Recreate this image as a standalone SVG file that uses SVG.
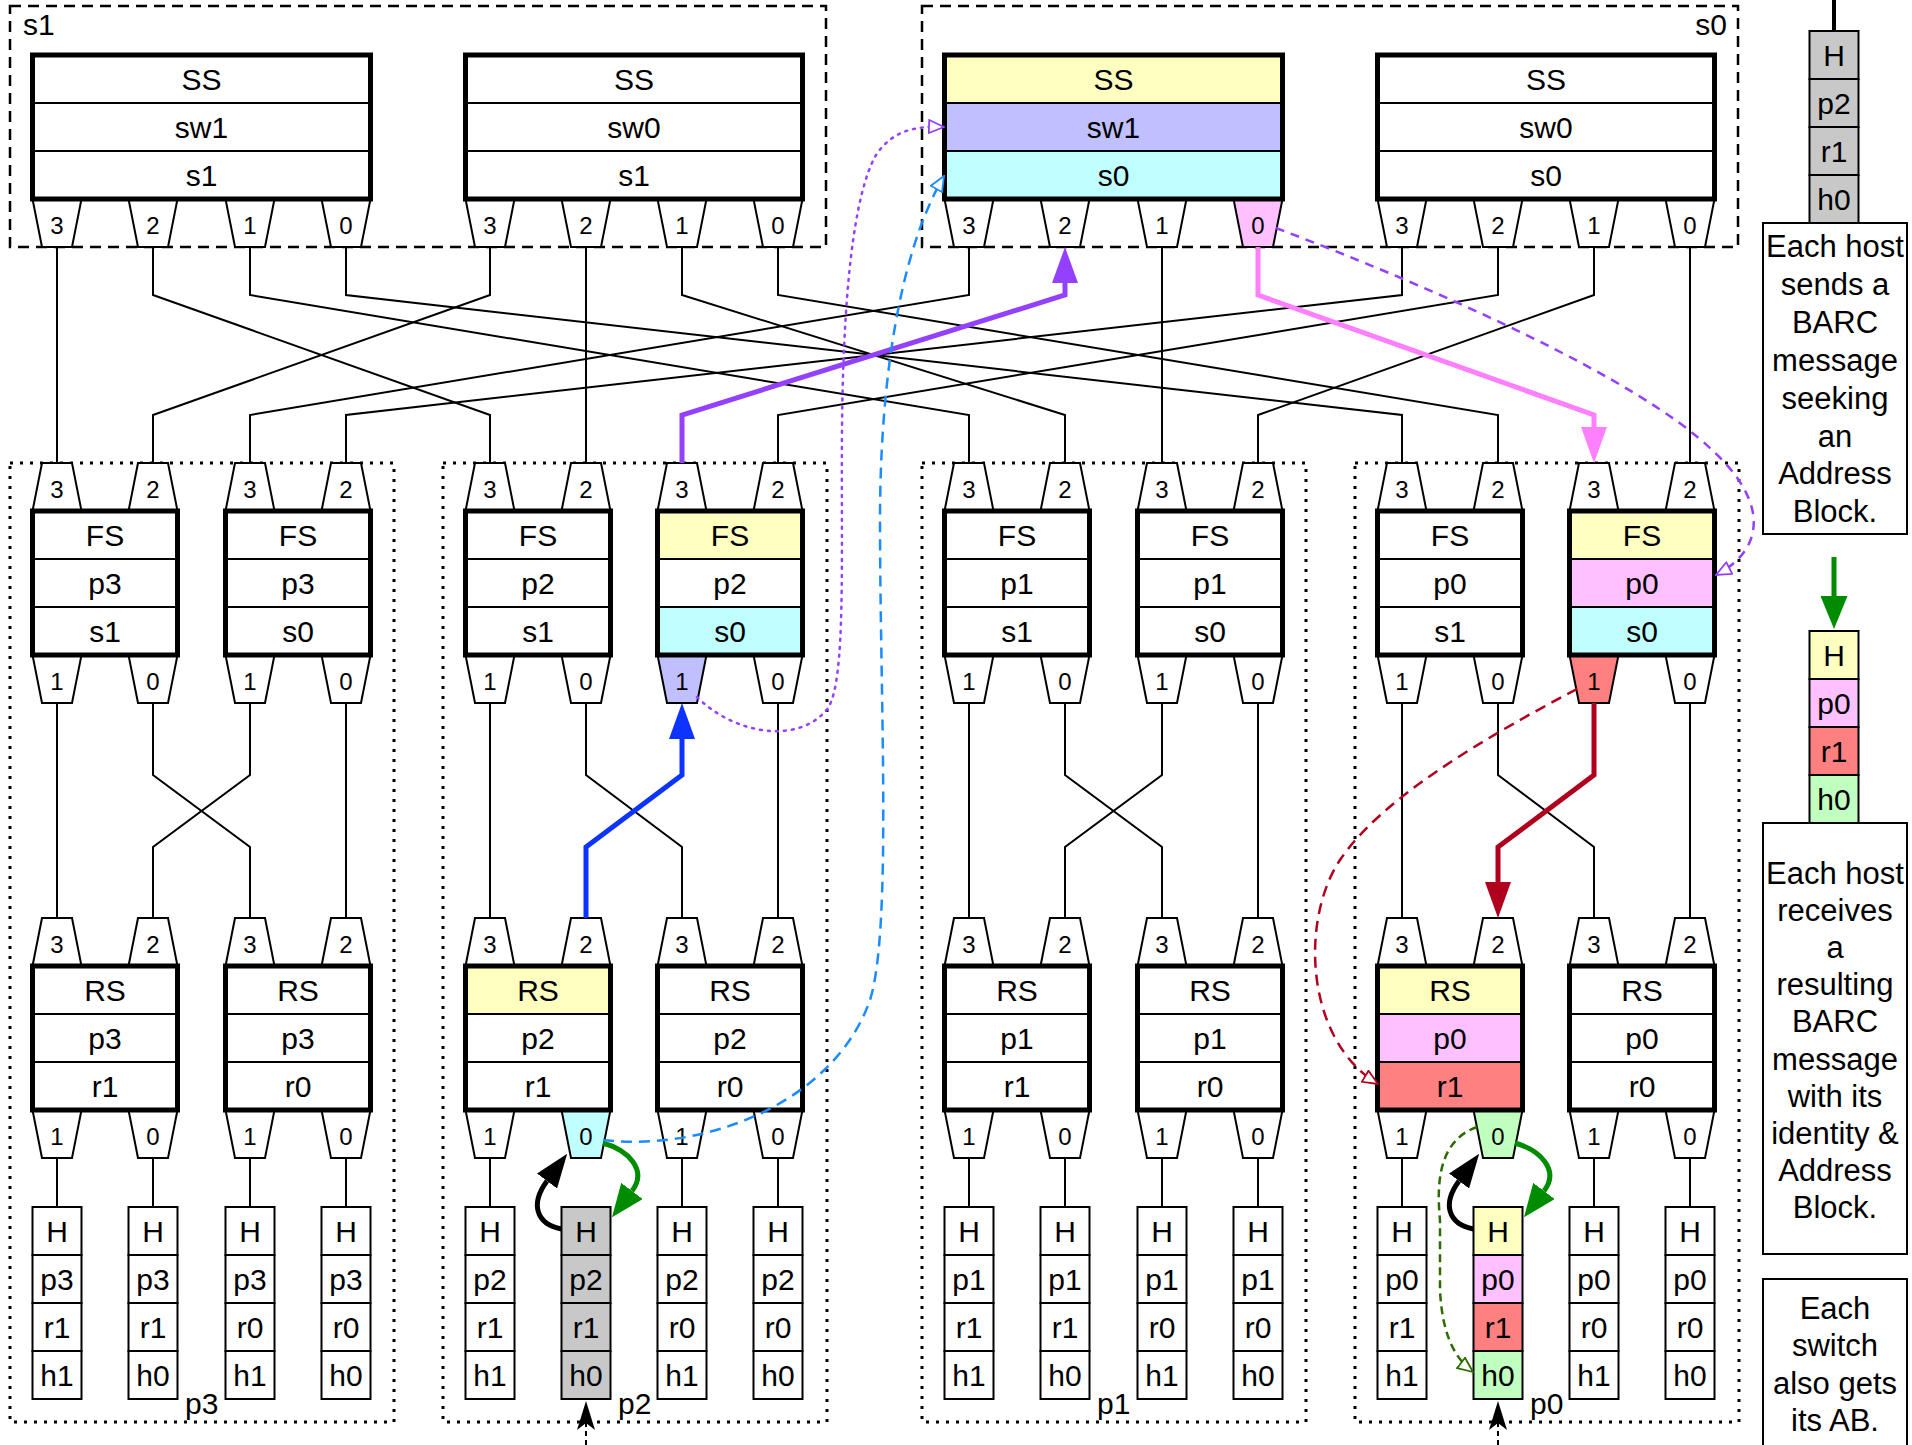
<svg xmlns="http://www.w3.org/2000/svg" width="1912" height="1445" viewBox="0 0 1912 1445">
<style>
.cell{fill:#fff;stroke:#000;stroke-width:2}
.frame{fill:none;stroke:#000;stroke-width:5}
.port{fill:#fff;stroke:#000;stroke-width:2}
.t{font-family:"Liberation Sans",Arial,Helvetica,sans-serif;font-size:30px;text-anchor:middle;fill:#000}
.d{font-size:24px}
.st{text-anchor:start}
.en{text-anchor:end}
.w{fill:none;stroke:#000;stroke-width:2}
.grpS{fill:none;stroke:#000;stroke-width:2.5;stroke-dasharray:11 7}
.grpP{fill:none;stroke:#000;stroke-width:3;stroke-dasharray:3 7}
.Y{fill:#ffffc0}.L{fill:#c0c0ff}.C{fill:#c0ffff}.P{fill:#ffc0ff}.R{fill:#ff8080}.G{fill:#c0ffc0}.K{fill:#c8c8c8}
.note{fill:#fff;stroke:#000;stroke-width:2}
.nt{font-family:"Liberation Sans",Arial,Helvetica,sans-serif;font-size:31px;text-anchor:middle;fill:#000}
</style>
<defs>
<polygon id="pd" points="-24.5,0 24.5,0 15,48 -15,48"/>
<polygon id="pu" points="-15,0 15,0 24.5,48 -24.5,48"/>
<g id="hf"><rect x="-24.5" y="0" width="49" height="48"/><rect x="-24.5" y="48" width="49" height="48"/><rect x="-24.5" y="96" width="49" height="48"/><rect x="-24.5" y="144" width="49" height="48"/></g>
<marker id="mBlue" viewBox="0 0 36 26" refX="0" refY="13" markerWidth="36" markerHeight="26" markerUnits="userSpaceOnUse" orient="auto"><path d="M0,0L36,13L0,26z" fill="#0d33ff"/></marker>
<marker id="mPurple" viewBox="0 0 36 26" refX="0" refY="13" markerWidth="36" markerHeight="26" markerUnits="userSpaceOnUse" orient="auto"><path d="M0,0L36,13L0,26z" fill="#9441ff"/></marker>
<marker id="mPink" viewBox="0 0 36 26" refX="0" refY="13" markerWidth="36" markerHeight="26" markerUnits="userSpaceOnUse" orient="auto"><path d="M0,0L36,13L0,26z" fill="#ff80ff"/></marker>
<marker id="mRed" viewBox="0 0 36 26" refX="0" refY="13" markerWidth="36" markerHeight="26" markerUnits="userSpaceOnUse" orient="auto"><path d="M0,0L36,13L0,26z" fill="#b0001e"/></marker>
<marker id="mBlack" viewBox="0 0 34 25" refX="0" refY="12.5" markerWidth="34" markerHeight="25" markerUnits="userSpaceOnUse" orient="auto"><path d="M0,0L34,12.5L0,25z" fill="#000"/></marker>
<marker id="mGreen" viewBox="0 0 33 27" refX="0" refY="13.5" markerWidth="33" markerHeight="27" markerUnits="userSpaceOnUse" orient="auto"><path d="M0,0L33,13.5L0,27z" fill="#008c00"/></marker>
<marker id="oPurple" viewBox="0 0 17 15" refX="16" refY="7.5" markerWidth="17" markerHeight="15" markerUnits="userSpaceOnUse" orient="auto"><path d="M1,1L16,7.5L1,14z" fill="#fff" stroke="#9441ff" stroke-width="1.8"/></marker>
<marker id="oBlue" viewBox="0 0 17 15" refX="16" refY="7.5" markerWidth="17" markerHeight="15" markerUnits="userSpaceOnUse" orient="auto"><path d="M1,1L16,7.5L1,14z" fill="#fff" stroke="#1a8cff" stroke-width="1.8"/></marker>
<marker id="oRed" viewBox="0 0 17 15" refX="16" refY="7.5" markerWidth="17" markerHeight="15" markerUnits="userSpaceOnUse" orient="auto"><path d="M1,1L16,7.5L1,14z" fill="#fff" stroke="#b0001e" stroke-width="1.8"/></marker>
<marker id="oGreen" viewBox="0 0 17 15" refX="16" refY="7.5" markerWidth="17" markerHeight="15" markerUnits="userSpaceOnUse" orient="auto"><path d="M1,1L16,7.5L1,14z" fill="#fff" stroke="#2d6b00" stroke-width="1.8"/></marker>
</defs>

<g id="containers">
<rect class="grpS" x="10" y="6" width="816" height="241"/>
<text class="t st" x="23" y="35">s1</text>
<rect class="grpS" x="922" y="6" width="816" height="241"/>
<text class="t en" x="1727" y="35">s0</text>
<rect class="grpP" x="10" y="463" width="384" height="959"/>
<text class="t st" x="185" y="1414">p3</text>
<rect class="grpP" x="443" y="463" width="384" height="959"/>
<text class="t st" x="618" y="1414">p2</text>
<rect class="grpP" x="922" y="463" width="384" height="959"/>
<text class="t st" x="1097" y="1414">p1</text>
<rect class="grpP" x="1355" y="463" width="384" height="959"/>
<text class="t st" x="1530" y="1414">p0</text>
</g>

<!-- Spine switches -->
<g id="ss-s1-sw1">
<use href="#pd" class="port" x="57" y="199"/><use href="#pd" class="port" x="153" y="199"/><use href="#pd" class="port" x="250" y="199"/><use href="#pd" class="port" x="346" y="199"/>
<text class="t d" x="57" y="234">3</text><text class="t d" x="153" y="234">2</text><text class="t d" x="250" y="234">1</text><text class="t d" x="346" y="234">0</text>
<rect class="cell" x="32.5" y="55" width="338" height="48"/><rect class="cell" x="32.5" y="103" width="338" height="48"/><rect class="cell" x="32.5" y="151" width="338" height="48"/>
<rect class="frame" x="32.5" y="55" width="338" height="144"/>
<text class="t" x="201.5" y="90">SS</text><text class="t" x="201.5" y="138">sw1</text><text class="t" x="201.5" y="186">s1</text>
</g>
<g id="ss-s1-sw0">
<use href="#pd" class="port" x="490" y="199"/><use href="#pd" class="port" x="586" y="199"/><use href="#pd" class="port" x="682" y="199"/><use href="#pd" class="port" x="778" y="199"/>
<text class="t d" x="490" y="234">3</text><text class="t d" x="586" y="234">2</text><text class="t d" x="682" y="234">1</text><text class="t d" x="778" y="234">0</text>
<rect class="cell" x="465.5" y="55" width="337" height="48"/><rect class="cell" x="465.5" y="103" width="337" height="48"/><rect class="cell" x="465.5" y="151" width="337" height="48"/>
<rect class="frame" x="465.5" y="55" width="337" height="144"/>
<text class="t" x="634" y="90">SS</text><text class="t" x="634" y="138">sw0</text><text class="t" x="634" y="186">s1</text>
</g>
<g id="ss-s0-sw1">
<use href="#pd" class="port" x="969" y="199"/><use href="#pd" class="port" x="1065" y="199"/><use href="#pd" class="port" x="1162" y="199"/><use href="#pd" class="port P" x="1258" y="199"/>
<text class="t d" x="969" y="234">3</text><text class="t d" x="1065" y="234">2</text><text class="t d" x="1162" y="234">1</text><text class="t d" x="1258" y="234">0</text>
<rect class="cell Y" x="944.5" y="55" width="338" height="48"/><rect class="cell L" x="944.5" y="103" width="338" height="48"/><rect class="cell C" x="944.5" y="151" width="338" height="48"/>
<rect class="frame" x="944.5" y="55" width="338" height="144"/>
<text class="t" x="1113.5" y="90">SS</text><text class="t" x="1113.5" y="138">sw1</text><text class="t" x="1113.5" y="186">s0</text>
</g>
<g id="ss-s0-sw0">
<use href="#pd" class="port" x="1402" y="199"/><use href="#pd" class="port" x="1498" y="199"/><use href="#pd" class="port" x="1594" y="199"/><use href="#pd" class="port" x="1690" y="199"/>
<text class="t d" x="1402" y="234">3</text><text class="t d" x="1498" y="234">2</text><text class="t d" x="1594" y="234">1</text><text class="t d" x="1690" y="234">0</text>
<rect class="cell" x="1377.5" y="55" width="337" height="48"/><rect class="cell" x="1377.5" y="103" width="337" height="48"/><rect class="cell" x="1377.5" y="151" width="337" height="48"/>
<rect class="frame" x="1377.5" y="55" width="337" height="144"/>
<text class="t" x="1546" y="90">SS</text><text class="t" x="1546" y="138">sw0</text><text class="t" x="1546" y="186">s0</text>
</g>

<!-- Fabric switches -->
<g id="fs-p3-s1">
<use href="#pu" class="port" x="57" y="463"/><use href="#pu" class="port" x="153" y="463"/><use href="#pd" class="port" x="57" y="655"/><use href="#pd" class="port" x="153" y="655"/>
<text class="t d" x="57" y="498">3</text><text class="t d" x="153" y="498">2</text><text class="t d" x="57" y="690">1</text><text class="t d" x="153" y="690">0</text>
<rect class="cell" x="32.5" y="511" width="145" height="48"/><rect class="cell" x="32.5" y="559" width="145" height="48"/><rect class="cell" x="32.5" y="607" width="145" height="48"/>
<rect class="frame" x="32.5" y="511" width="145" height="144"/>
<text class="t" x="105" y="546">FS</text><text class="t" x="105" y="594">p3</text><text class="t" x="105" y="642">s1</text>
</g>
<g id="fs-p3-s0">
<use href="#pu" class="port" x="250" y="463"/><use href="#pu" class="port" x="346" y="463"/><use href="#pd" class="port" x="250" y="655"/><use href="#pd" class="port" x="346" y="655"/>
<text class="t d" x="250" y="498">3</text><text class="t d" x="346" y="498">2</text><text class="t d" x="250" y="690">1</text><text class="t d" x="346" y="690">0</text>
<rect class="cell" x="225.5" y="511" width="145" height="48"/><rect class="cell" x="225.5" y="559" width="145" height="48"/><rect class="cell" x="225.5" y="607" width="145" height="48"/>
<rect class="frame" x="225.5" y="511" width="145" height="144"/>
<text class="t" x="298" y="546">FS</text><text class="t" x="298" y="594">p3</text><text class="t" x="298" y="642">s0</text>
</g>
<g id="fs-p2-s1">
<use href="#pu" class="port" x="490" y="463"/><use href="#pu" class="port" x="586" y="463"/><use href="#pd" class="port" x="490" y="655"/><use href="#pd" class="port" x="586" y="655"/>
<text class="t d" x="490" y="498">3</text><text class="t d" x="586" y="498">2</text><text class="t d" x="490" y="690">1</text><text class="t d" x="586" y="690">0</text>
<rect class="cell" x="465.5" y="511" width="145" height="48"/><rect class="cell" x="465.5" y="559" width="145" height="48"/><rect class="cell" x="465.5" y="607" width="145" height="48"/>
<rect class="frame" x="465.5" y="511" width="145" height="144"/>
<text class="t" x="538" y="546">FS</text><text class="t" x="538" y="594">p2</text><text class="t" x="538" y="642">s1</text>
</g>
<g id="fs-p2-s0">
<use href="#pu" class="port" x="682" y="463"/><use href="#pu" class="port" x="778" y="463"/><use href="#pd" class="port L" x="682" y="655"/><use href="#pd" class="port" x="778" y="655"/>
<text class="t d" x="682" y="498">3</text><text class="t d" x="778" y="498">2</text><text class="t d" x="682" y="690">1</text><text class="t d" x="778" y="690">0</text>
<rect class="cell Y" x="657.5" y="511" width="145" height="48"/><rect class="cell" x="657.5" y="559" width="145" height="48"/><rect class="cell C" x="657.5" y="607" width="145" height="48"/>
<rect class="frame" x="657.5" y="511" width="145" height="144"/>
<text class="t" x="730" y="546">FS</text><text class="t" x="730" y="594">p2</text><text class="t" x="730" y="642">s0</text>
</g>
<g id="fs-p1-s1">
<use href="#pu" class="port" x="969" y="463"/><use href="#pu" class="port" x="1065" y="463"/><use href="#pd" class="port" x="969" y="655"/><use href="#pd" class="port" x="1065" y="655"/>
<text class="t d" x="969" y="498">3</text><text class="t d" x="1065" y="498">2</text><text class="t d" x="969" y="690">1</text><text class="t d" x="1065" y="690">0</text>
<rect class="cell" x="944.5" y="511" width="145" height="48"/><rect class="cell" x="944.5" y="559" width="145" height="48"/><rect class="cell" x="944.5" y="607" width="145" height="48"/>
<rect class="frame" x="944.5" y="511" width="145" height="144"/>
<text class="t" x="1017" y="546">FS</text><text class="t" x="1017" y="594">p1</text><text class="t" x="1017" y="642">s1</text>
</g>
<g id="fs-p1-s0">
<use href="#pu" class="port" x="1162" y="463"/><use href="#pu" class="port" x="1258" y="463"/><use href="#pd" class="port" x="1162" y="655"/><use href="#pd" class="port" x="1258" y="655"/>
<text class="t d" x="1162" y="498">3</text><text class="t d" x="1258" y="498">2</text><text class="t d" x="1162" y="690">1</text><text class="t d" x="1258" y="690">0</text>
<rect class="cell" x="1137.5" y="511" width="145" height="48"/><rect class="cell" x="1137.5" y="559" width="145" height="48"/><rect class="cell" x="1137.5" y="607" width="145" height="48"/>
<rect class="frame" x="1137.5" y="511" width="145" height="144"/>
<text class="t" x="1210" y="546">FS</text><text class="t" x="1210" y="594">p1</text><text class="t" x="1210" y="642">s0</text>
</g>
<g id="fs-p0-s1">
<use href="#pu" class="port" x="1402" y="463"/><use href="#pu" class="port" x="1498" y="463"/><use href="#pd" class="port" x="1402" y="655"/><use href="#pd" class="port" x="1498" y="655"/>
<text class="t d" x="1402" y="498">3</text><text class="t d" x="1498" y="498">2</text><text class="t d" x="1402" y="690">1</text><text class="t d" x="1498" y="690">0</text>
<rect class="cell" x="1377.5" y="511" width="145" height="48"/><rect class="cell" x="1377.5" y="559" width="145" height="48"/><rect class="cell" x="1377.5" y="607" width="145" height="48"/>
<rect class="frame" x="1377.5" y="511" width="145" height="144"/>
<text class="t" x="1450" y="546">FS</text><text class="t" x="1450" y="594">p0</text><text class="t" x="1450" y="642">s1</text>
</g>
<g id="fs-p0-s0">
<use href="#pu" class="port" x="1594" y="463"/><use href="#pu" class="port" x="1690" y="463"/><use href="#pd" class="port R" x="1594" y="655"/><use href="#pd" class="port" x="1690" y="655"/>
<text class="t d" x="1594" y="498">3</text><text class="t d" x="1690" y="498">2</text><text class="t d" x="1594" y="690">1</text><text class="t d" x="1690" y="690">0</text>
<rect class="cell Y" x="1569.5" y="511" width="145" height="48"/><rect class="cell P" x="1569.5" y="559" width="145" height="48"/><rect class="cell C" x="1569.5" y="607" width="145" height="48"/>
<rect class="frame" x="1569.5" y="511" width="145" height="144"/>
<text class="t" x="1642" y="546">FS</text><text class="t" x="1642" y="594">p0</text><text class="t" x="1642" y="642">s0</text>
</g>

<!-- Rack switches -->
<g id="rs-p3-r1">
<use href="#pu" class="port" x="57" y="918"/><use href="#pu" class="port" x="153" y="918"/><use href="#pd" class="port" x="57" y="1110"/><use href="#pd" class="port" x="153" y="1110"/>
<text class="t d" x="57" y="953">3</text><text class="t d" x="153" y="953">2</text><text class="t d" x="57" y="1145">1</text><text class="t d" x="153" y="1145">0</text>
<rect class="cell" x="32.5" y="966" width="145" height="48"/><rect class="cell" x="32.5" y="1014" width="145" height="48"/><rect class="cell" x="32.5" y="1062" width="145" height="48"/>
<rect class="frame" x="32.5" y="966" width="145" height="144"/>
<text class="t" x="105" y="1001">RS</text><text class="t" x="105" y="1049">p3</text><text class="t" x="105" y="1097">r1</text>
</g>
<g id="rs-p3-r0">
<use href="#pu" class="port" x="250" y="918"/><use href="#pu" class="port" x="346" y="918"/><use href="#pd" class="port" x="250" y="1110"/><use href="#pd" class="port" x="346" y="1110"/>
<text class="t d" x="250" y="953">3</text><text class="t d" x="346" y="953">2</text><text class="t d" x="250" y="1145">1</text><text class="t d" x="346" y="1145">0</text>
<rect class="cell" x="225.5" y="966" width="145" height="48"/><rect class="cell" x="225.5" y="1014" width="145" height="48"/><rect class="cell" x="225.5" y="1062" width="145" height="48"/>
<rect class="frame" x="225.5" y="966" width="145" height="144"/>
<text class="t" x="298" y="1001">RS</text><text class="t" x="298" y="1049">p3</text><text class="t" x="298" y="1097">r0</text>
</g>
<g id="rs-p2-r1">
<use href="#pu" class="port" x="490" y="918"/><use href="#pu" class="port" x="586" y="918"/><use href="#pd" class="port" x="490" y="1110"/><use href="#pd" class="port C" x="586" y="1110"/>
<text class="t d" x="490" y="953">3</text><text class="t d" x="586" y="953">2</text><text class="t d" x="490" y="1145">1</text><text class="t d" x="586" y="1145">0</text>
<rect class="cell Y" x="465.5" y="966" width="145" height="48"/><rect class="cell" x="465.5" y="1014" width="145" height="48"/><rect class="cell" x="465.5" y="1062" width="145" height="48"/>
<rect class="frame" x="465.5" y="966" width="145" height="144"/>
<text class="t" x="538" y="1001">RS</text><text class="t" x="538" y="1049">p2</text><text class="t" x="538" y="1097">r1</text>
</g>
<g id="rs-p2-r0">
<use href="#pu" class="port" x="682" y="918"/><use href="#pu" class="port" x="778" y="918"/><use href="#pd" class="port" x="682" y="1110"/><use href="#pd" class="port" x="778" y="1110"/>
<text class="t d" x="682" y="953">3</text><text class="t d" x="778" y="953">2</text><text class="t d" x="682" y="1145">1</text><text class="t d" x="778" y="1145">0</text>
<rect class="cell" x="657.5" y="966" width="145" height="48"/><rect class="cell" x="657.5" y="1014" width="145" height="48"/><rect class="cell" x="657.5" y="1062" width="145" height="48"/>
<rect class="frame" x="657.5" y="966" width="145" height="144"/>
<text class="t" x="730" y="1001">RS</text><text class="t" x="730" y="1049">p2</text><text class="t" x="730" y="1097">r0</text>
</g>
<g id="rs-p1-r1">
<use href="#pu" class="port" x="969" y="918"/><use href="#pu" class="port" x="1065" y="918"/><use href="#pd" class="port" x="969" y="1110"/><use href="#pd" class="port" x="1065" y="1110"/>
<text class="t d" x="969" y="953">3</text><text class="t d" x="1065" y="953">2</text><text class="t d" x="969" y="1145">1</text><text class="t d" x="1065" y="1145">0</text>
<rect class="cell" x="944.5" y="966" width="145" height="48"/><rect class="cell" x="944.5" y="1014" width="145" height="48"/><rect class="cell" x="944.5" y="1062" width="145" height="48"/>
<rect class="frame" x="944.5" y="966" width="145" height="144"/>
<text class="t" x="1017" y="1001">RS</text><text class="t" x="1017" y="1049">p1</text><text class="t" x="1017" y="1097">r1</text>
</g>
<g id="rs-p1-r0">
<use href="#pu" class="port" x="1162" y="918"/><use href="#pu" class="port" x="1258" y="918"/><use href="#pd" class="port" x="1162" y="1110"/><use href="#pd" class="port" x="1258" y="1110"/>
<text class="t d" x="1162" y="953">3</text><text class="t d" x="1258" y="953">2</text><text class="t d" x="1162" y="1145">1</text><text class="t d" x="1258" y="1145">0</text>
<rect class="cell" x="1137.5" y="966" width="145" height="48"/><rect class="cell" x="1137.5" y="1014" width="145" height="48"/><rect class="cell" x="1137.5" y="1062" width="145" height="48"/>
<rect class="frame" x="1137.5" y="966" width="145" height="144"/>
<text class="t" x="1210" y="1001">RS</text><text class="t" x="1210" y="1049">p1</text><text class="t" x="1210" y="1097">r0</text>
</g>
<g id="rs-p0-r1">
<use href="#pu" class="port" x="1402" y="918"/><use href="#pu" class="port" x="1498" y="918"/><use href="#pd" class="port" x="1402" y="1110"/><use href="#pd" class="port G" x="1498" y="1110"/>
<text class="t d" x="1402" y="953">3</text><text class="t d" x="1498" y="953">2</text><text class="t d" x="1402" y="1145">1</text><text class="t d" x="1498" y="1145">0</text>
<rect class="cell Y" x="1377.5" y="966" width="145" height="48"/><rect class="cell P" x="1377.5" y="1014" width="145" height="48"/><rect class="cell R" x="1377.5" y="1062" width="145" height="48"/>
<rect class="frame" x="1377.5" y="966" width="145" height="144"/>
<text class="t" x="1450" y="1001">RS</text><text class="t" x="1450" y="1049">p0</text><text class="t" x="1450" y="1097">r1</text>
</g>
<g id="rs-p0-r0">
<use href="#pu" class="port" x="1594" y="918"/><use href="#pu" class="port" x="1690" y="918"/><use href="#pd" class="port" x="1594" y="1110"/><use href="#pd" class="port" x="1690" y="1110"/>
<text class="t d" x="1594" y="953">3</text><text class="t d" x="1690" y="953">2</text><text class="t d" x="1594" y="1145">1</text><text class="t d" x="1690" y="1145">0</text>
<rect class="cell" x="1569.5" y="966" width="145" height="48"/><rect class="cell" x="1569.5" y="1014" width="145" height="48"/><rect class="cell" x="1569.5" y="1062" width="145" height="48"/>
<rect class="frame" x="1569.5" y="966" width="145" height="144"/>
<text class="t" x="1642" y="1001">RS</text><text class="t" x="1642" y="1049">p0</text><text class="t" x="1642" y="1097">r0</text>
</g>

<!-- Hosts -->
<g id="h-p3-r1-h1"><use href="#hf" class="cell" x="57" y="1207"/><text class="t" x="57" y="1242">H</text><text class="t" x="57" y="1290">p3</text><text class="t" x="57" y="1338">r1</text><text class="t" x="57" y="1386">h1</text></g>
<g id="h-p3-r1-h0"><use href="#hf" class="cell" x="153" y="1207"/><text class="t" x="153" y="1242">H</text><text class="t" x="153" y="1290">p3</text><text class="t" x="153" y="1338">r1</text><text class="t" x="153" y="1386">h0</text></g>
<g id="h-p3-r0-h1"><use href="#hf" class="cell" x="250" y="1207"/><text class="t" x="250" y="1242">H</text><text class="t" x="250" y="1290">p3</text><text class="t" x="250" y="1338">r0</text><text class="t" x="250" y="1386">h1</text></g>
<g id="h-p3-r0-h0"><use href="#hf" class="cell" x="346" y="1207"/><text class="t" x="346" y="1242">H</text><text class="t" x="346" y="1290">p3</text><text class="t" x="346" y="1338">r0</text><text class="t" x="346" y="1386">h0</text></g>

<g id="h-p2-r1-h1"><use href="#hf" class="cell" x="490" y="1207"/><text class="t" x="490" y="1242">H</text><text class="t" x="490" y="1290">p2</text><text class="t" x="490" y="1338">r1</text><text class="t" x="490" y="1386">h1</text></g>
<g id="h-p2-r1-h0"><use href="#hf" class="cell K" x="586" y="1207"/><text class="t" x="586" y="1242">H</text><text class="t" x="586" y="1290">p2</text><text class="t" x="586" y="1338">r1</text><text class="t" x="586" y="1386">h0</text></g>
<g id="h-p2-r0-h1"><use href="#hf" class="cell" x="682" y="1207"/><text class="t" x="682" y="1242">H</text><text class="t" x="682" y="1290">p2</text><text class="t" x="682" y="1338">r0</text><text class="t" x="682" y="1386">h1</text></g>
<g id="h-p2-r0-h0"><use href="#hf" class="cell" x="778" y="1207"/><text class="t" x="778" y="1242">H</text><text class="t" x="778" y="1290">p2</text><text class="t" x="778" y="1338">r0</text><text class="t" x="778" y="1386">h0</text></g>

<g id="h-p1-r1-h1"><use href="#hf" class="cell" x="969" y="1207"/><text class="t" x="969" y="1242">H</text><text class="t" x="969" y="1290">p1</text><text class="t" x="969" y="1338">r1</text><text class="t" x="969" y="1386">h1</text></g>
<g id="h-p1-r1-h0"><use href="#hf" class="cell" x="1065" y="1207"/><text class="t" x="1065" y="1242">H</text><text class="t" x="1065" y="1290">p1</text><text class="t" x="1065" y="1338">r1</text><text class="t" x="1065" y="1386">h0</text></g>
<g id="h-p1-r0-h1"><use href="#hf" class="cell" x="1162" y="1207"/><text class="t" x="1162" y="1242">H</text><text class="t" x="1162" y="1290">p1</text><text class="t" x="1162" y="1338">r0</text><text class="t" x="1162" y="1386">h1</text></g>
<g id="h-p1-r0-h0"><use href="#hf" class="cell" x="1258" y="1207"/><text class="t" x="1258" y="1242">H</text><text class="t" x="1258" y="1290">p1</text><text class="t" x="1258" y="1338">r0</text><text class="t" x="1258" y="1386">h0</text></g>

<g id="h-p0-r1-h1"><use href="#hf" class="cell" x="1402" y="1207"/><text class="t" x="1402" y="1242">H</text><text class="t" x="1402" y="1290">p0</text><text class="t" x="1402" y="1338">r1</text><text class="t" x="1402" y="1386">h1</text></g>
<g id="h-p0-r1-h0">
<rect class="cell Y" x="1473.5" y="1207" width="49" height="48"/><rect class="cell P" x="1473.5" y="1255" width="49" height="48"/><rect class="cell R" x="1473.5" y="1303" width="49" height="48"/><rect class="cell G" x="1473.5" y="1351" width="49" height="48"/>
<text class="t" x="1498" y="1242">H</text><text class="t" x="1498" y="1290">p0</text><text class="t" x="1498" y="1338">r1</text><text class="t" x="1498" y="1386">h0</text></g>
<g id="h-p0-r0-h1"><use href="#hf" class="cell" x="1594" y="1207"/><text class="t" x="1594" y="1242">H</text><text class="t" x="1594" y="1290">p0</text><text class="t" x="1594" y="1338">r0</text><text class="t" x="1594" y="1386">h1</text></g>
<g id="h-p0-r0-h0"><use href="#hf" class="cell" x="1690" y="1207"/><text class="t" x="1690" y="1242">H</text><text class="t" x="1690" y="1290">p0</text><text class="t" x="1690" y="1338">r0</text><text class="t" x="1690" y="1386">h0</text></g>

<!-- Legend column -->
<g id="msg-request">
<rect class="cell K" x="1809.5" y="31" width="49" height="48"/><rect class="cell K" x="1809.5" y="79" width="49" height="48"/><rect class="cell K" x="1809.5" y="127" width="49" height="48"/><rect class="cell K" x="1809.5" y="175" width="49" height="48"/>
<text class="t" x="1834" y="66">H</text><text class="t" x="1834" y="114">p2</text><text class="t" x="1834" y="162">r1</text><text class="t" x="1834" y="210">h0</text>
</g>
<g id="note-request">
<rect class="note" x="1763" y="223" width="144" height="311"/>
<text class="nt" x="1835" y="257">Each host</text><text class="nt" x="1835" y="295">sends a</text><text class="nt" x="1835" y="333">BARC</text><text class="nt" x="1835" y="371">message</text><text class="nt" x="1835" y="409">seeking</text><text class="nt" x="1835" y="447">an</text><text class="nt" x="1835" y="484">Address</text><text class="nt" x="1835" y="522">Block.</text>
</g>
<g id="msg-result">
<rect class="cell Y" x="1809.5" y="631" width="49" height="48"/><rect class="cell P" x="1809.5" y="679" width="49" height="48"/><rect class="cell R" x="1809.5" y="727" width="49" height="48"/><rect class="cell G" x="1809.5" y="775" width="49" height="48"/>
<text class="t" x="1834" y="666">H</text><text class="t" x="1834" y="714">p0</text><text class="t" x="1834" y="762">r1</text><text class="t" x="1834" y="810">h0</text>
</g>
<g id="note-result">
<rect class="note" x="1763" y="823" width="144" height="431"/>
<text class="nt" x="1835" y="884">Each host</text><text class="nt" x="1835" y="921">receives</text><text class="nt" x="1835" y="958">a</text><text class="nt" x="1835" y="995">resulting</text><text class="nt" x="1835" y="1032">BARC</text><text class="nt" x="1835" y="1070">message</text><text class="nt" x="1835" y="1107">with its</text><text class="nt" x="1835" y="1144">identity &amp;</text><text class="nt" x="1835" y="1181">Address</text><text class="nt" x="1835" y="1218">Block.</text>
</g>
<g id="note-switch">
<rect class="note" x="1763" y="1279" width="144" height="190"/>
<text class="nt" x="1835" y="1319">Each</text><text class="nt" x="1835" y="1356">switch</text><text class="nt" x="1835" y="1394">also gets</text><text class="nt" x="1835" y="1431">its AB.</text>
</g>

<g id="connectors">
<g class="w">
<path d="M57,247V463"/>
<path d="M153,247V295L490,415V463"/>
<path d="M250,247V295L969,415V463"/>
<path d="M346,247V295L1402,415V463"/>
<path d="M490,247V295L153,415V463"/>
<path d="M586,247V463"/>
<path d="M682,247V295L1065,415V463"/>
<path d="M778,247V295L1498,415V463"/>
<path d="M969,247V295L250,415V463"/>
<path d="M1162,247V463"/>
<path d="M1402,247V295L346,415V463"/>
<path d="M1498,247V295L778,415V463"/>
<path d="M1594,247V295L1258,415V463"/>
<path d="M1690,247V463"/>
<path d="M57,703V918"/><path d="M153,703V775L250,847V918"/><path d="M250,703V775L153,847V918"/><path d="M346,703V918"/>
<path d="M490,703V918"/><path d="M586,703V775L682,847V918"/><path d="M778,703V918"/>
<path d="M969,703V918"/><path d="M1065,703V775L1162,847V918"/><path d="M1162,703V775L1065,847V918"/><path d="M1258,703V918"/>
<path d="M1402,703V918"/><path d="M1498,703V775L1594,847V918"/><path d="M1690,703V918"/>
<path d="M57,1158V1207M153,1158V1207M250,1158V1207M346,1158V1207"/>
<path d="M490,1158V1207M682,1158V1207M778,1158V1207"/>
<path d="M969,1158V1207M1065,1158V1207M1162,1158V1207M1258,1158V1207"/>
<path d="M1402,1158V1207M1594,1158V1207M1690,1158V1207"/>
</g>
<path d="M1834,0V31" fill="none" stroke="#000" stroke-width="4"/>
<path d="M682,463V415L1065,295V283" fill="none" stroke="#9441ff" stroke-width="5" marker-end="url(#mPurple)"/>
<path d="M1258,247V295L1594,415V427" fill="none" stroke="#ff80ff" stroke-width="5" marker-end="url(#mPink)"/>
<path d="M586,918V847L682,775V739" fill="none" stroke="#0d33ff" stroke-width="5" marker-end="url(#mBlue)"/>
<path d="M1594,703V775L1498,847V882" fill="none" stroke="#b0001e" stroke-width="5" marker-end="url(#mRed)"/>
<path d="M561.5,1229C536,1224 530,1204 547,1181" fill="none" stroke="#000" stroke-width="5" marker-end="url(#mBlack)"/>
<path d="M603,1143C628,1150 648,1170 632,1191" fill="none" stroke="#008c00" stroke-width="5" marker-end="url(#mGreen)"/>
<path d="M1473.5,1229C1448,1224 1442,1204 1459,1181" fill="none" stroke="#000" stroke-width="5" marker-end="url(#mBlack)"/>
<path d="M1515,1143C1540,1150 1560,1170 1544,1191" fill="none" stroke="#008c00" stroke-width="5" marker-end="url(#mGreen)"/>
<path d="M1834,557V596" fill="none" stroke="#008c00" stroke-width="5" marker-end="url(#mGreen)"/>
<path d="M697,697C735,735 800,745 828,708C846,680 841,560 842,430C843,300 853,195 876,155C893,130 915,126 944,127" fill="none" stroke="#9441ff" stroke-width="2.5" stroke-dasharray="2 6" stroke-linecap="round" marker-end="url(#oPurple)"/>
<path d="M603,1140C710,1152 835,1100 870,1000C892,930 880,700 880,520C880,400 895,260 944,176" fill="none" stroke="#1a8cff" stroke-width="2.5" stroke-dasharray="11 7" marker-end="url(#oBlue)"/>
<path d="M1276,228C1440,290 1640,380 1712,450C1770,503 1764,550 1716,575" fill="none" stroke="#9441ff" stroke-width="2.5" stroke-dasharray="9 7" marker-end="url(#oPurple)"/>
<path d="M1577,689C1480,740 1380,800 1340,860C1300,920 1305,1040 1378,1084" fill="none" stroke="#b0001e" stroke-width="2.5" stroke-dasharray="11 7" marker-end="url(#oRed)"/>
<path d="M1477,1127C1440,1140 1436,1180 1440,1220L1440,1290C1442,1330 1452,1356 1473,1372" fill="none" stroke="#2d6b00" stroke-width="2.5" stroke-dasharray="8 5" marker-end="url(#oGreen)"/>
<path d="M586,1445V1420M1498,1445V1420" fill="none" stroke="#000" stroke-width="2" stroke-dasharray="5 4"/>
<polygon points="586,1401 595,1430 586,1423 577,1430" fill="#000"/>
<polygon points="1498,1401 1507,1430 1498,1423 1489,1430" fill="#000"/>
</g>
</svg>
